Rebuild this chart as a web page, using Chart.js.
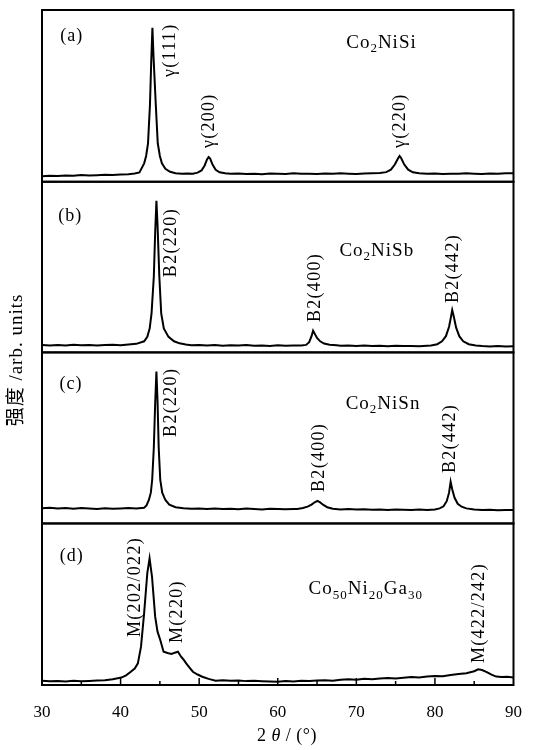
<!DOCTYPE html>
<html>
<head>
<meta charset="utf-8">
<script src="https://cdn.jsdelivr.net/npm/chart.js@4.4.1/dist/chart.umd.min.js"></script>
<style>
  html, body { margin: 0; padding: 0; background: #fff; }
</style>
</head>
<body>
<canvas id="xrdChart" width="539" height="750"></canvas>
<script>
// (a) Co2NiSi
const angleA = [30, 31, 32, 33, 34, 35, 36, 37, 38, 39, 40, 41, 41.8, 42.4, 43.0, 43.25, 43.49, 43.74, 43.9, 44.05, 44.2, 44.48, 44.73, 45.0, 45.26, 45.7, 46.3, 47.0, 47.8, 48.5, 49.2, 49.8, 50.3, 50.7, 51.0, 51.2, 51.4, 51.7, 52.1, 52.6, 53.3, 54, 55, 56, 57, 58, 59, 60, 61, 62, 63, 64, 65, 66, 67, 68, 69, 70, 71, 72, 73.0, 73.8, 74.4, 74.9, 75.3, 75.5, 75.7, 76.1, 76.6, 77.2, 78.0, 79, 80, 81, 82, 83, 84, 85, 86, 87, 88, 89, 90];
const countsA = [3.2, 3.5, 3.3, 3.7, 3.5, 3.9, 3.6, 3.8, 4.1, 3.9, 4.2, 4.4, 4.8, 5.4, 10.7, 15, 22.4, 44.9, 70, 89.7, 72, 44.9, 22.4, 15, 10.7, 7.5, 5.8, 5.0, 4.6, 4.8, 4.7, 5.3, 6.6, 9.5, 13, 14.4, 13.5, 10, 7, 5.5, 4.9, 4.6, 4.8, 4.5, 4.7, 4.4, 4.8, 4.6, 4.5, 4.9, 4.6, 4.7, 4.5, 4.8, 4.6, 4.9, 4.7, 4.5, 4.8, 4.9, 5.1, 5.6, 7.0, 10, 13.5, 15, 13.8, 10, 7, 5.5, 4.9, 4.6, 4.8, 4.5, 4.7, 4.6, 4.9, 4.7, 4.5, 4.8, 4.6, 4.9, 5.0];

// (b) Co2NiSb
const angleB = [30, 31, 32, 33, 34, 35, 36, 37, 38, 39, 40, 41, 42, 43.0, 43.4, 43.7, 43.94, 44.23, 44.4, 44.56, 44.7, 44.93, 45.17, 45.5, 46.1, 46.8, 47.5, 48.3, 49, 50, 51, 52, 53, 54, 55, 56, 57, 58, 59, 60, 61, 62, 63, 63.6, 64.0, 64.3, 64.5, 64.7, 65.0, 65.4, 65.9, 66.6, 67.5, 68, 69, 70, 71, 72, 73, 74, 75, 76, 77, 78, 79, 79.5, 80.3, 80.9, 81.4, 81.8, 82.05, 82.2, 82.4, 82.7, 83.1, 83.6, 84.3, 85.2, 86, 87, 88, 89, 90];
const countsB = [4.3, 4.0, 4.4, 4.1, 4.5, 4.2, 4.4, 4.0, 4.3, 4.5, 4.2, 4.6, 5.0, 6.5, 9.1, 14, 22.9, 44.5, 70, 88.9, 75, 44.5, 22.9, 14, 9.1, 6.5, 5.3, 4.6, 4.2, 4.4, 4.1, 4.3, 3.9, 4.2, 4.0, 4.3, 3.9, 4.1, 3.8, 4.2, 3.9, 4.1, 4.0, 4.4, 6, 9.5, 12.7, 11, 8.5, 6.5, 5.2, 4.5, 4.2, 3.9, 4.1, 3.8, 4.0, 3.7, 3.9, 3.6, 3.9, 3.7, 3.8, 3.6, 3.9, 4.0, 4.8, 6.5, 9.5, 15, 21, 24.8, 21, 14.5, 9.5, 6.5, 4.8, 4.0, 3.7, 3.5, 3.8, 3.4, 3.6];

// (c) Co2NiSn
const angleC = [30, 31, 32, 33, 34, 35, 36, 37, 38, 39, 40, 41, 42, 43.0, 43.3, 43.6, 43.85, 44.02, 44.23, 44.4, 44.56, 44.7, 44.85, 45.05, 45.3, 45.7, 46.2, 47.0, 48, 49, 50, 51, 52, 53, 54, 55, 56, 57, 58, 59, 60, 61, 62, 62.5, 63.2, 63.8, 64.3, 64.7, 65.05, 65.4, 65.8, 66.3, 67.0, 68, 69, 70, 71, 72, 73, 74, 75, 76, 77, 78, 79, 80.0, 80.6, 81.1, 81.5, 81.8, 82.0, 82.2, 82.5, 82.9, 83.4, 84.0, 85, 86, 87, 88, 89, 90];
const countsC = [8.9, 9.2, 8.7, 9.0, 8.6, 9.1, 8.8, 8.5, 8.9, 8.6, 8.8, 9.0, 8.7, 9.2, 10.5, 13.7, 18, 25.4, 44.4, 70, 88.8, 72, 44.4, 25.4, 18, 13.7, 11, 9.5, 8.9, 8.6, 8.8, 8.5, 8.7, 8.4, 8.6, 8.3, 8.7, 8.5, 8.2, 8.6, 8.4, 8.3, 8.5, 8.4, 9.0, 9.8, 11, 12.4, 13.2, 12.3, 10.8, 9.5, 8.6, 8.2, 8.4, 8.1, 8.3, 8.0, 8.2, 7.9, 8.2, 8.0, 7.8, 8.1, 7.9, 8.2, 8.8, 10, 13, 18, 24.4, 20, 15, 11.5, 9.8, 8.8, 8.1, 7.8, 8.0, 7.7, 7.9, 7.8];

// (d) Co50Ni20Ga30
const angleD = [30, 31, 32, 33, 34, 35, 36, 37, 38, 39, 40.1, 40.7, 41.3, 41.8, 42.2, 42.6, 43.0, 43.4, 43.69, 44.0, 44.4, 44.7, 45.05, 45.47, 45.8, 46.1, 46.5, 46.9, 47.3, 47.7, 48.0, 48.35, 48.8, 49.2, 49.8, 50.4, 51.2, 52.1, 53, 54, 55, 56, 57, 58, 59, 60, 61, 62, 63, 64, 65, 66, 67, 68, 69, 70, 71, 72, 73, 74, 75, 76, 77, 78, 79, 80, 81, 82, 83, 84, 85, 85.5, 86, 86.6, 87.2, 87.8, 88.5, 89.2, 90];
const countsD = [2.6, 2.3, 2.5, 2.2, 2.6, 2.3, 2.5, 2.8, 2.9, 3.6, 4.6, 6.0, 8.2, 10.2, 13.4, 23.7, 44.6, 69.3, 78.4, 67, 42.3, 33, 27.9, 20.6, 20.1, 19.6, 19.2, 20.0, 20.6, 17.5, 15.8, 13.4, 10.6, 8.2, 6.5, 5.1, 3.8, 2.7, 3.0, 2.6, 2.8, 2.4, 2.6, 2.3, 2.1, 2.0, 2.4, 2.2, 2.6, 2.5, 2.8, 3.0, 2.7, 3.2, 3.6, 3.3, 3.8, 3.5, 4.0, 4.3, 4.1, 4.5, 5.0, 4.7, 5.3, 5.6, 5.4, 6.2, 6.8, 7.3, 8.5, 9.7, 9.3, 8.0, 6.4, 5.2, 4.9, 5.1, 4.6];

const xTicks = [30, 40, 50, 60, 70, 80, 90];
const panelIds = ['ya', 'yb', 'yc', 'yd'];
const panelTags = ['(a)', '(b)', '(c)', '(d)'];
const compounds = [
  [['Co', 0], ['2', 1], ['NiSi', 0]],
  [['Co', 0], ['2', 1], ['NiSb', 0]],
  [['Co', 0], ['2', 1], ['NiSn', 0]],
  [['Co', 0], ['50', 1], ['Ni', 0], ['20', 1], ['Ga', 0], ['30', 1]]
];
// peak label text, angle of label centre, intensity at label foot
const peakLabels = [
  [['γ(111)', 46.3, 61], ['γ(200)', 51.25, 19.6], ['γ(220)', 75.6, 19.6]],
  [['B2(220)', 46.4, 44.1], ['B2(400)', 64.8, 17.8], ['B2(442)', 82.3, 28.9]],
  [['B2(220)', 46.5, 50.6], ['B2(400)', 65.3, 18.4], ['B2(442)', 82.0, 29.5]],
  [['M(202/022)', 41.86, 29.7], ['M(220)', 47.2, 26.0], ['M(422/242)', 85.67, 13.6]]
];
const tagAt = [[33.8, 85.4], [33.6, 80.5], [33.7, 82.2], [33.8, 80.5]];
const compoundAt = [[73.2, 81.4], [72.6, 60], [73.4, 70.5], [71.2, 60]];

const serif = "'Liberation Serif', 'Times New Roman', 'Noto Sans CJK SC', serif";

function drawRich(ctx, parts, cx, cy, size) {
  const fontFor = (sub) => `${sub ? Math.round(size * 0.7) : size}px ${serif}`;
  let width = 0;
  parts.forEach(([text, sub]) => { ctx.font = fontFor(sub); width += ctx.measureText(text).width; });
  let px = cx - width / 2;
  const base = cy + size * 0.33;
  parts.forEach(([text, sub]) => {
    ctx.font = fontFor(sub);
    ctx.fillText(text, px, base + (sub ? size * 0.22 : 0));
    px += ctx.measureText(text).width;
  });
}

const panelDecor = {
  id: 'panelDecor',
  afterDatasetsDraw(chart) {
    const { ctx, chartArea: area, scales } = chart;
    const x = scales.x;
    ctx.save();
    ctx.strokeStyle = '#000';
    ctx.fillStyle = '#000';
    ctx.lineWidth = 2;
    panelIds.forEach((id) => {
      const s = scales[id];
      ctx.strokeRect(area.left, s.top, area.right - area.left, s.bottom - s.top);
    });

    ctx.lineWidth = 1.5;
    for (let v = 35; v < 90; v += 5) {
      const px = x.getPixelForValue(v);
      const len = v % 10 === 0 ? 7 : 4;
      ctx.beginPath();
      ctx.moveTo(px, area.bottom);
      ctx.lineTo(px, area.bottom - len);
      ctx.stroke();
    }

    ctx.textBaseline = 'alphabetic';
    ctx.textAlign = 'left';
    panelIds.forEach((id, i) => {
      const y = scales[id];
      ctx.letterSpacing = '1px';
      drawRich(ctx, [[panelTags[i], 0]], x.getPixelForValue(tagAt[i][0]), y.getPixelForValue(tagAt[i][1]), 18);
      ctx.letterSpacing = '1px';
      drawRich(ctx, compounds[i], x.getPixelForValue(compoundAt[i][0]), y.getPixelForValue(compoundAt[i][1]), 19);

      ctx.font = `18px ${serif}`;
      ctx.letterSpacing = '1.3px';
      peakLabels[i].forEach(([text, angle, level]) => {
        ctx.save();
        ctx.translate(x.getPixelForValue(angle), y.getPixelForValue(level));
        ctx.rotate(-Math.PI / 2);
        ctx.textBaseline = 'middle';
        ctx.fillText(text, 0, 0);
        ctx.restore();
      });
    });

    // axis titles
    ctx.letterSpacing = '0.5px';
    const titleParts = [['2 ', ''], ['θ', 'italic '], [' / (°)', '']];
    let w = 0;
    titleParts.forEach(([t, st]) => { ctx.font = `${st}18px ${serif}`; w += ctx.measureText(t).width; });
    let tx = 287 - w / 2;
    titleParts.forEach(([t, st]) => {
      ctx.font = `${st}18px ${serif}`;
      ctx.fillText(t, tx, 741);
      tx += ctx.measureText(t).width;
    });

    ctx.save();
    ctx.translate(17, 360);
    ctx.rotate(-Math.PI / 2);
    ctx.font = `19px ${serif}`;
    ctx.letterSpacing = '1px';
    ctx.textAlign = 'center';
    ctx.textBaseline = 'middle';
    ctx.fillText('强度 /arb. units', 0, 0);
    ctx.restore();
    ctx.restore();
  }
};

const toPoints = (xs, ys) => xs.map((v, i) => ({ x: v, y: ys[i] }));
const traceStyle = { borderColor: '#000', borderWidth: 2, pointRadius: 0, fill: false, tension: 0 };
const panelAxis = (weight) => ({
  type: 'linear', position: 'left', stack: 'xrd', stackWeight: weight, min: 0, max: 100,
  ticks: { display: false }, grid: { display: false }, border: { display: false },
  afterFit: (s) => { s.width = 0; }
});

new Chart(document.getElementById('xrdChart'), {
  type: 'line',
  data: {
    datasets: [
      { label: 'Co2NiSi', data: toPoints(angleA, countsA), yAxisID: 'ya', ...traceStyle },
      { label: 'Co2NiSb', data: toPoints(angleB, countsB), yAxisID: 'yb', ...traceStyle },
      { label: 'Co2NiSn', data: toPoints(angleC, countsC), yAxisID: 'yc', ...traceStyle },
      { label: 'Co50Ni20Ga30', data: toPoints(angleD, countsD), yAxisID: 'yd', ...traceStyle }
    ]
  },
  options: {
    responsive: false,
    animation: false,
    layout: { padding: { left: 42, right: 12, top: 10, bottom: 0 } },
    plugins: { legend: { display: false }, tooltip: { enabled: false } },
    scales: {
      x: {
        type: 'linear', position: 'bottom', min: 30, max: 90,
        afterBuildTicks: (s) => { s.ticks = xTicks.map((v) => ({ value: v })); },
        ticks: { color: '#000', font: { family: serif, size: 17 }, padding: 17, maxRotation: 0, autoSkip: false },
        grid: { display: false, drawTicks: false },
        border: { display: false },
        afterFit: (s) => { s.height = 65; }
      },
      yd: panelAxis(161.5),
      yc: panelAxis(171),
      yb: panelAxis(170.6),
      ya: panelAxis(171.7)
    }
  },
  plugins: [panelDecor]
});
</script>
</body>
</html>
